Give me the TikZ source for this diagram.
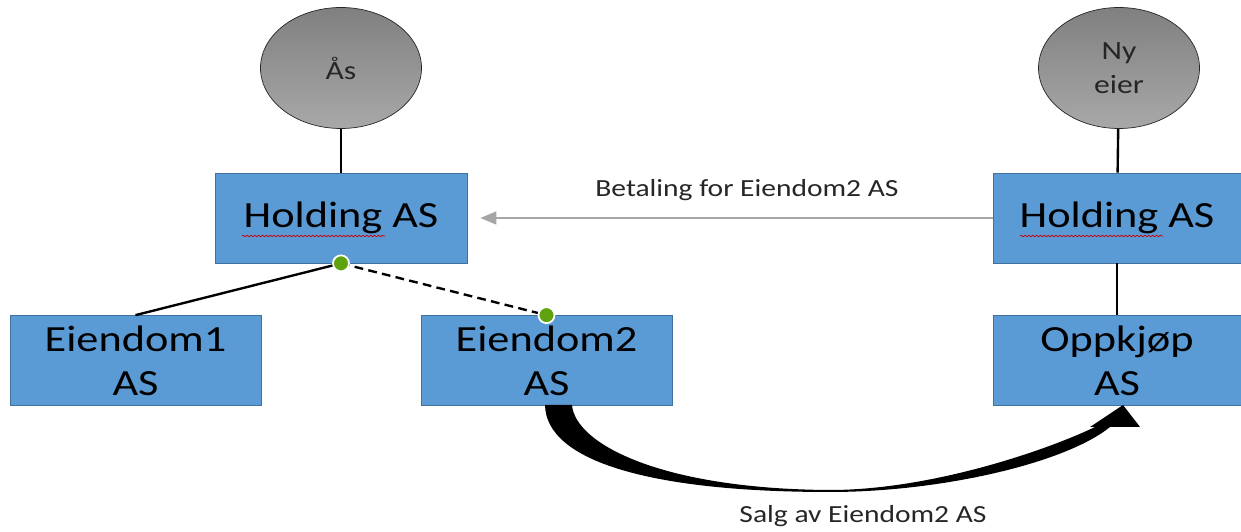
\documentclass[tikz,border=0pt]{standalone}
\usepackage{fontspec}
\setmainfont{Carlito}[FakeStretch=1.2]
\usetikzlibrary{arrows.meta,shapes.geometric,decorations.pathmorphing,calc}

\definecolor{boxblue}{RGB}{91,155,213}
\definecolor{boxline}{RGB}{65,113,156}
\definecolor{ownertop}{RGB}{128,128,128}
\definecolor{ownerbot}{RGB}{168,168,168}
\definecolor{dotgreen}{RGB}{94,162,14}
\definecolor{paygray}{RGB}{166,166,166}

\begin{document}
\begin{tikzpicture}[
    company/.style={draw=boxline,fill=boxblue,minimum width=5.04cm,minimum height=1.8cm,
                    align=center,font=\fontsize{21}{25}\selectfont,inner sep=0pt},
    owner/.style={ellipse,draw=black!85,top color=ownertop,bottom color=ownerbot,
                  minimum width=3.22cm,minimum height=2.42cm,align=center,
                  text=black!85,font=\fontsize{15}{19}\selectfont},
    link/.style={line width=1.35pt},
    handle/.style={circle,fill=dotgreen,draw=white,line width=1pt,minimum size=0.32cm,inner sep=0pt},
    squiggle/.style={red!80!black,line width=0.4pt,decorate,
                     decoration={snake,amplitude=0.45pt,segment length=2.2pt}},
    note/.style={font=\fontsize{14}{17}\selectfont,text=black!85}
  ]
  \useasboundingbox (0,0) rectangle (24.82,10.62);

  % seller side
  \node[owner] (aas) at (6.82,9.26) {Ås};
  \node[company] (holdL) at (6.82,6.26) {Holding AS};
  \node[company,minimum width=5.02cm] (eien1) at (2.71,3.41) {Eiendom1\\AS};
  \node[company,minimum width=5.02cm] (eien2) at (10.93,3.41) {Eiendom2\\AS};

  % buyer side
  \node[owner] (nyeier) at (22.38,9.26) {Ny\\eier};
  \node[company,minimum width=4.96cm] (holdR) at (22.34,6.26) {Holding AS};
  \node[company,minimum width=4.96cm] (oppkjop) at (22.34,3.41) {Oppkjøp\\AS};

  \draw[squiggle] ($(holdL.center)+(-1.98,-0.36)$) -- ($(holdL.center)+(0.88,-0.36)$);
  \draw[squiggle] ($(holdR.center)+(-1.94,-0.36)$) -- ($(holdR.center)+(0.92,-0.36)$);

  \draw[link] (aas) -- (holdL);
  \draw[link] (nyeier) -- (holdR);
  \draw[link] (holdR) -- (oppkjop);
  \draw[link] (holdL.south) -- (eien1.north);
  \draw[link,dash pattern=on 5pt off 3pt] (holdL.south) -- (eien2.north);
  \node[handle] (dotA) at (holdL.south) {};
  \node[handle] (dotB) at (eien2.north) {};

  % payment
  \draw[paygray,line width=0.9pt,-{Triangle[length=3.2mm,width=2.6mm]},shorten >=0.26cm] (holdR.west) -- (holdL.east);
  \node[note] (betaling) at (14.94,6.82) {Betaling for Eiendom2 AS};

  % sale
  \fill (10.90,2.52) .. controls (10.92,1.4) and (13.0,0.78) .. (16.6,0.78)
        .. controls (18.8,0.78) and (21.3,1.35) .. (22.2,2.08)
        -- (22.80,2.08) -- (22.46,2.52) -- (21.80,2.08) -- (21.9,2.08)
        .. controls (20.9,1.6) and (18.6,0.82) .. (16.6,0.82)
        .. controls (13.2,0.84) and (11.5,1.75) .. (11.44,2.52) -- cycle;
  \node[note] (salg) at (17.26,0.30) {Salg av Eiendom2 AS};
\end{tikzpicture}
\end{document}
